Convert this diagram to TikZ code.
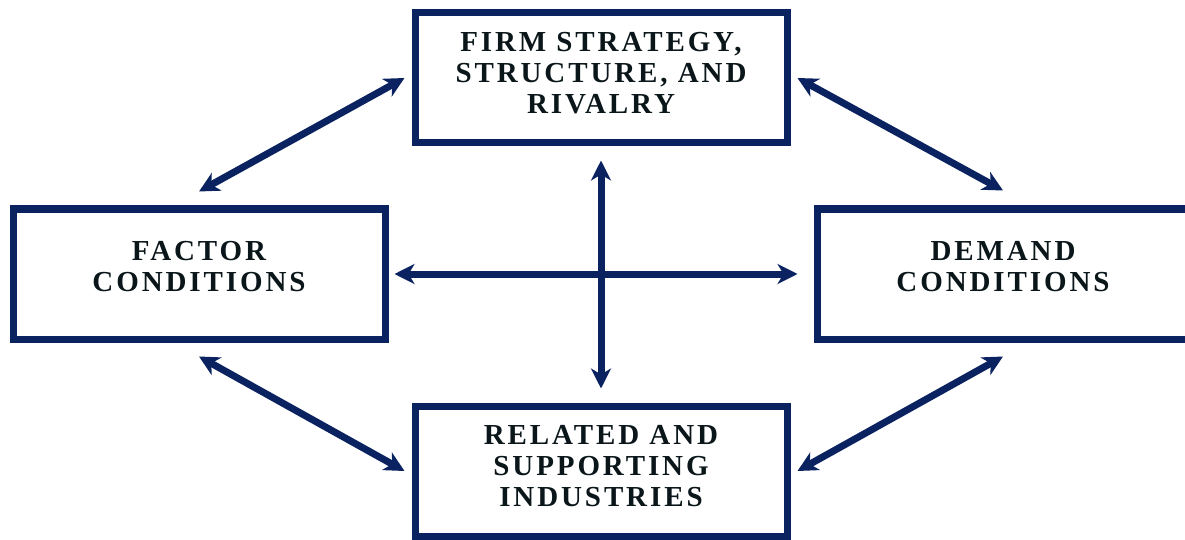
\documentclass[tikz,border=0pt]{standalone}
\usepackage{fontspec}
\setmainfont{Liberation Serif}
\newfontfamily\diamondfont[LetterSpace=10]{Liberation Serif}
\usepackage{tikz}
\usetikzlibrary{positioning, arrows.meta}
\definecolor{navy}{RGB}{11,34,96}
\definecolor{ink}{RGB}{10,22,26}

\begin{document}
\begin{tikzpicture}[x=1pt,y=1pt,node distance=59pt and 23pt,
    box/.style={draw=navy,line width=7pt,minimum width=372pt,minimum height=130pt,
      inner sep=0pt,align=center,text=ink,text depth=10pt,
      font=\diamondfont\bfseries\fontsize{29}{31}\selectfont},
    arr/.style={draw=navy,line width=7pt,{Stealth[length=20pt,width=20pt,inset=6pt]}-{Stealth[length=20pt,width=20pt,inset=6pt]}}]
      \useasboundingbox (0,0) rectangle (1185,539);
      \node[box] (firm) at (601,461) {FIRM STRATEGY,\\STRUCTURE, AND\\RIVALRY};
      \node[box, below left = of firm, text depth=16pt] (factor) {FACTOR\\CONDITIONS};
      \node[box, below right = of firm, text depth=16pt] (demand) {DEMAND\\CONDITIONS};
      \node[box, below = 256pt of firm] (related) {RELATED AND\\SUPPORTING\\INDUSTRIES};
      %
      \draw[arr] ([yshift=-14pt]firm.south) -- ([yshift=14pt]related.north);
      \draw[arr] ([xshift=6pt]factor.east) -- ([xshift=-16pt]demand.west);
      \draw[arr] ([yshift=14pt]factor.north) -- ([xshift=-7pt]firm.west);
      \draw[arr] ([xshift=7pt]firm.east) -- ([yshift=15pt]demand.north);
      \draw[arr] ([yshift=-14pt]factor.south) -- ([xshift=-7pt]related.west);
      \draw[arr] ([xshift=7pt]related.east) -- ([yshift=-14pt]demand.south);
\end{tikzpicture}
\end{document}
